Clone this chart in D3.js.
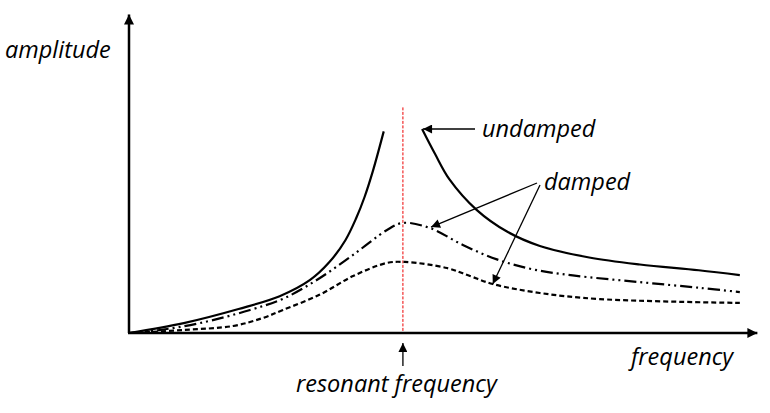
<!DOCTYPE html>
<html>
<head>
<meta charset="utf-8">
<script src="https://cdn.jsdelivr.net/npm/d3@7"></script>
<style>
  body { margin: 0; background: #fff; }
  text { font-family: "Open Sans", Lato, sans-serif; font-style: italic; font-size: 23.5px; fill: #000; }
</style>
</head>
<body>
<div id="chart"></div>
<script>
// frequency as ratio to resonance, amplitude in arbitrary units
var undampedLowF = [0, 0.2, 0.4, 0.55, 0.66, 0.73, 0.79, 0.83, 0.86, 0.89, 0.93];
var undampedLowA = [0, 0.31, 0.75, 1.15, 1.65, 2.2, 2.9, 3.6, 4.25, 5.05, 6.3];
var undampedHighF = [1.07, 1.117, 1.17, 1.27, 1.38, 1.5, 1.68, 1.865, 2.08, 2.23];
var undampedHighA = [6.375, 5.6, 4.8, 3.84, 3.17, 2.72, 2.36, 2.14, 1.96, 1.81];
var lightF = [0, 0.113, 0.259, 0.442, 0.57, 0.697, 0.818, 0.942, 1.0, 1.099, 1.219, 1.343, 1.474, 1.62, 1.865, 2.084, 2.23];
var lightA = [0, 0.094, 0.31, 0.72, 1.1, 1.72, 2.44, 3.22, 3.44, 3.28, 2.75, 2.3, 1.99, 1.8, 1.59, 1.41, 1.28];
var heavyF = [0, 0.197, 0.38, 0.489, 0.562, 0.697, 0.818, 0.942, 1.007, 1.161, 1.245, 1.328, 1.5, 1.719, 2.23];
var heavyA = [0, 0.094, 0.22, 0.47, 0.72, 1.2, 1.78, 2.19, 2.22, 2.03, 1.78, 1.53, 1.25, 1.06, 0.94];
var resonance = 1.0;

var width = 770, height = 413;
var svg = d3.select("#chart").append("svg")
    .attr("width", width)
    .attr("height", height);

var x = d3.scaleLinear().domain([0, 2.3]).range([129, 759]);
var y = d3.scaleLinear().domain([0, 10]).range([333, 13]);

// arrow heads
var defs = svg.append("defs");
function marker(id, w, h){
    defs.append("marker")
        .attr("id", id)
        .attr("viewBox", "0 0 10 10")
        .attr("refX", 10).attr("refY", 5)
        .attr("markerUnits", "userSpaceOnUse")
        .attr("markerWidth", w).attr("markerHeight", h)
        .attr("orient", "auto")
        .append("path")
        .attr("d", "M0,0 L10,5 L0,10 z")
        .attr("fill", "#000");
}
marker("axisHead", 14, 10);
marker("noteHead", 11, 9);

function zip(fs, as){
    return fs.map(function(f, i){ return [f, as[i]]; });
}
var line = d3.line()
    .x(function(d){ return x(d[0]); })
    .y(function(d){ return y(d[1]); })
    .curve(d3.curveCatmullRom.alpha(0.5));

// resonance line
svg.append("line")
    .attr("x1", x(resonance)).attr("x2", x(resonance))
    .attr("y1", y(7.05)).attr("y2", y(0))
    .attr("stroke", "#e00")
    .attr("stroke-width", 1)
    .attr("stroke-dasharray", "3,1.5");

// curves
svg.append("path").attr("d", line(zip(undampedLowF, undampedLowA)))
    .attr("fill", "none").attr("stroke", "#000").attr("stroke-width", 2.2);
svg.append("path").attr("d", line(zip(undampedHighF, undampedHighA)))
    .attr("fill", "none").attr("stroke", "#000").attr("stroke-width", 2.2);
svg.append("path").attr("d", line(zip(lightF, lightA)))
    .attr("fill", "none").attr("stroke", "#000").attr("stroke-width", 2.2)
    .attr("stroke-dasharray", "12,4,2,4,2,4");
svg.append("path").attr("d", line(zip(heavyF, heavyA)))
    .attr("fill", "none").attr("stroke", "#000").attr("stroke-width", 2.2)
    .attr("stroke-dasharray", "5,3");

// axes
svg.append("line")
    .attr("x1", x(0)).attr("y1", y(0))
    .attr("x2", x(0)).attr("y2", y(9.95))
    .attr("stroke", "#000").attr("stroke-width", 2.5)
    .attr("marker-end", "url(#axisHead)");
svg.append("line")
    .attr("x1", x(0) - 1).attr("y1", y(0))
    .attr("x2", x(2.294)).attr("y2", y(0))
    .attr("stroke", "#000").attr("stroke-width", 2.5)
    .attr("marker-end", "url(#axisHead)");

// annotations
function note(x1, y1, x2, y2){
    svg.append("line")
        .attr("x1", x1).attr("y1", y1)
        .attr("x2", x2).attr("y2", y2)
        .attr("stroke", "#000").attr("stroke-width", 1.3)
        .attr("marker-end", "url(#noteHead)");
}
note(475, y(undampedHighA[0]), x(undampedHighF[0]) + 1, y(undampedHighA[0]));
note(537, 183, x(lightF[9]) + 1, y(lightA[9]) - 1);
note(540, 185, x(heavyF[11]), y(heavyA[11]));
note(x(resonance), 366, x(resonance), 343);

svg.append("text").attr("x", 5).attr("y", 58).text("amplitude");
svg.append("text").attr("x", 631).attr("y", 365).text("frequency");
svg.append("text").attr("x", 296).attr("y", 392).text("resonant frequency");
svg.append("text").attr("x", 482).attr("y", 137).text("undamped");
svg.append("text").attr("x", 544).attr("y", 190).text("damped");
</script>
</body>
</html>
